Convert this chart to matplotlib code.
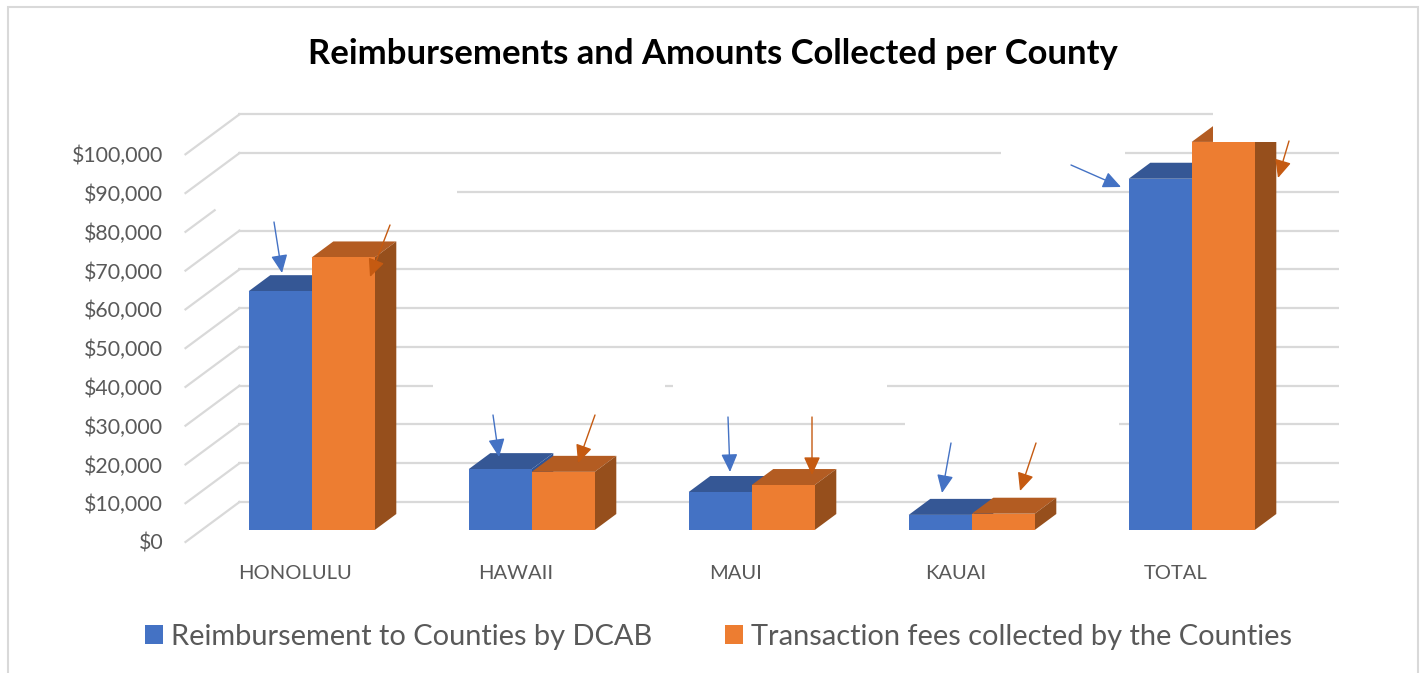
"""Reimbursements vs fees per county, drawn as an Excel-style fake 3D column chart."""
import numpy as np
import matplotlib
matplotlib.use("Agg")
import matplotlib.pyplot as plt
from matplotlib import transforms as mtrans
from matplotlib.patches import FancyArrowPatch, Polygon, Rectangle

plt.rcParams["font.family"] = ["Lato", "DejaVu Sans"]

counties = ["HONOLULU", "HAWAII", "MAUI", "KAUAI", "TOTAL"]
reimbursed = [61600, 15700, 9800, 3900, 90600]
fees = [70300, 15000, 11600, 4200, 100100]
y_ticks = list(range(0, 100001, 10000))

W, H = 1420, 673
BLUE, BLUE_TOP, BLUE_SIDE = "#4472C4", "#355795", "#2F5496"
ORANGE, ORANGE_TOP, ORANGE_SIDE = "#ED7D31", "#B35C22", "#964F1C"
ARROW_BLUE, ARROW_ORANGE = "#4472C4", "#C55A11"
GRID = "#D9D9D9"
TEXT = "#595959"

# wall depth in pixels, bars stand between 30% and 70% of it
DX, DY = 54, 40
BAR_W = 63 / 220

# back wall gridline pieces in pixels, the source has white gaps in them
wall_spans = {
    100000: [(238, 1213)],
    90000: [(238, 1001), (1125, 1339)],
    80000: [(457, 1339)],
    30000: [(238, 433), (665, 673), (887, 1339)],
    20000: [(238, 905), (1119, 1339)],
}
# callout arrows, (tail, tip) in pixels from the top left
blue_arrows = [((274, 222), (282, 273)), ((493, 415), (499, 457)), ((728, 417), (730, 472)),
               ((951, 443), (942, 493)), ((1071, 165), (1121, 187))]
orange_arrows = [((390, 225), (370, 277)), ((595, 415), (578, 463)), ((812, 417), (812, 475)),
                 ((1036, 443), (1020, 491)), ((1289, 141), (1278, 178))]


def depth(ax, fig, d):
    return mtrans.offset_copy(ax.transData, fig, x=DX * d, y=DY * d, units="dots")


def main():
    fig = plt.figure(figsize=(W / 100, H / 100), dpi=100)
    ax = fig.add_axes([185.5 / W, 1 - 542 / H, 1100 / W, 387.7 / H])
    ax.set_xlim(-0.5, 4.5)
    ax.set_ylim(0, 100000)
    ax.set_autoscalex_on(False)
    ax.set_autoscaley_on(False)
    ax.patch.set_visible(False)
    for s in ax.spines.values():
        s.set_visible(False)

    ident = mtrans.IdentityTransform()
    px = mtrans.Affine2D().scale(1, -1).translate(0, H)

    # page frame, runs off the bottom of the picture
    fig.add_artist(Rectangle((8, -6), 1409.5, H - 1, transform=ident, fill=False,
                             ec=GRID, lw=1.5, clip_on=False))

    # walls
    wall = depth(ax, fig, 1.0)
    wall_y = mtrans.blended_transform_factory(ident, wall)
    for v in y_ticks:
        for x0, x1 in wall_spans.get(v, [(238, 1339)]):
            ax.plot([x0, x1], [v, v], color=GRID, lw=1.6, transform=wall_y,
                    clip_on=False, zorder=1, solid_capstyle="butt")
        p0 = ax.transData.transform((-0.5, v))
        p1 = p0 + (DX, DY)
        if v == 80000:
            p1 = p0 + (DX * 0.54, DY * 0.54)
        ax.plot([p0[0], p1[0]], [p0[1], p1[1]], color=GRID, lw=1.6, transform=ident,
                clip_on=False, zorder=1)

    # bars
    front = depth(ax, fig, 0.3)
    back = depth(ax, fig, 0.7)
    x = np.arange(len(counties))
    z = 3
    for i, xc in enumerate(x):
        series = [(xc - BAR_W, reimbursed[i], BLUE, BLUE_TOP, BLUE_SIDE),
                  (xc, fees[i], ORANGE, ORANGE_TOP, ORANGE_SIDE)]
        for left, val, col, top_col, side_col in series:
            a = front.transform([(left, val), (left + BAR_W, val), (left + BAR_W, 0)])
            b = back.transform([(left, val), (left + BAR_W, val), (left + BAR_W, 0)])
            ax.add_patch(Polygon([a[0], a[1], b[1], b[0]], transform=ident, fc=top_col,
                                 ec="none", zorder=z, clip_on=False))
            ax.add_patch(Polygon([a[1], b[1], b[2], a[2]], transform=ident, fc=side_col,
                                 ec="none", zorder=z, clip_on=False))
            ax.bar(left, val, BAR_W, align="edge", color=col, transform=front,
                   clip_on=False, zorder=z + 0.5)
            z += 1

    # the source cuts off the top of the TOTAL orange column
    ax.add_patch(Rectangle((1213, 100), 90, 42, transform=px, fc="white", ec="none",
                           zorder=z, clip_on=False))

    for arrows, col in [(blue_arrows, ARROW_BLUE), (orange_arrows, ARROW_ORANGE)]:
        for tail, tip in arrows:
            ax.add_patch(FancyArrowPatch(tail, tip, transform=px, color=col, lw=1.0,
                                         arrowstyle="-|>,head_length=11,head_width=5",
                                         mutation_scale=1, shrinkA=0, shrinkB=0,
                                         zorder=z + 1, clip_on=False))

    ax.set_yticks(y_ticks, [f"${v:,}" for v in y_ticks])
    ax.set_xticks(x, counties)
    ax.tick_params(axis="y", length=0, pad=16, labelsize=15.3, labelcolor=TEXT)
    ax.tick_params(axis="x", length=0, pad=16.5, labelsize=14.5, labelcolor=TEXT)

    fig.text(713 / W, 1 - 54.5 / H, "Reimbursements and Amounts Collected per County",
             ha="center", va="center", fontsize=24.9, fontweight="bold", color="black")

    handles = [Rectangle((0, 0), 1, 1, fc=BLUE), Rectangle((0, 0), 1, 1, fc=ORANGE)]
    fig.legend(handles, ["Reimbursement to Counties by DCAB", "Transaction fees collected by the Counties"],
               ncol=2, frameon=False, loc="center", bbox_to_anchor=(718.5 / W, 1 - 637 / H),
               fontsize=20.9, labelcolor=TEXT, handlelength=0.62, handleheight=0.62,
               handletextpad=0.28, columnspacing=2.5, borderpad=0)

    fig.savefig("out.png", dpi=100)


if __name__ == "__main__":
    main()
